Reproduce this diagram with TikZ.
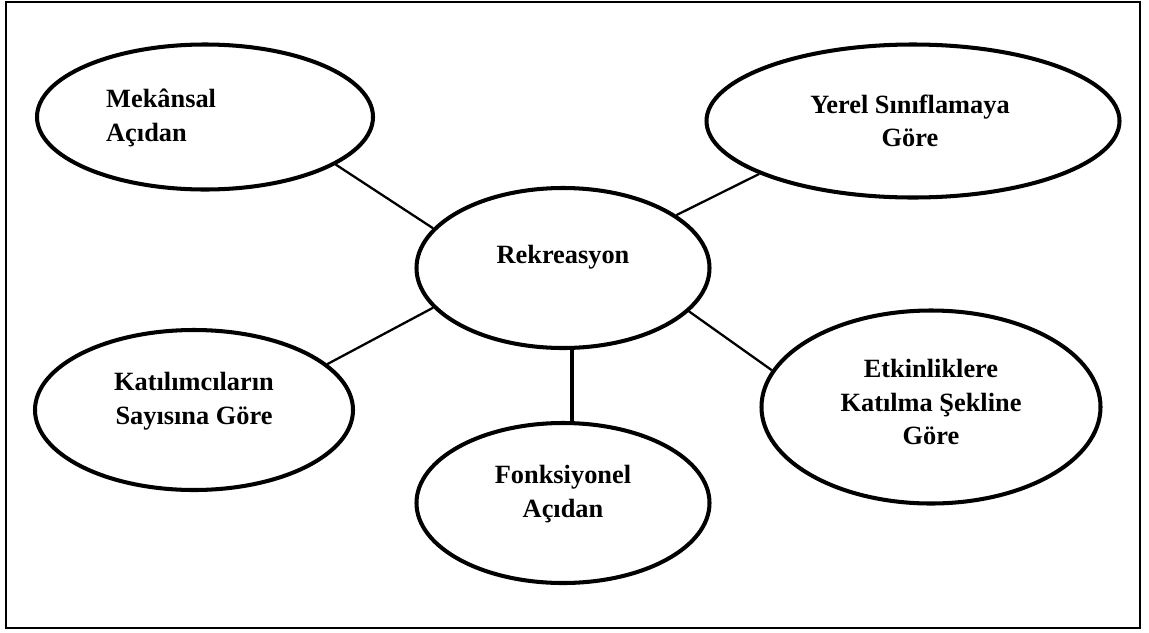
\documentclass[tikz,border=0pt]{standalone}
\usepackage{fontspec}
\setmainfont{Liberation Serif}
\usetikzlibrary{shapes.geometric}

\tikzset{
  bubble/.style={ellipse, draw, line width=2.3pt, inner sep=0pt},
  txt/.style={font=\bfseries\fontsize{15}{19}\selectfont, align=center},
  spoke/.style={line width=1.3pt}
}

\begin{document}
\begin{tikzpicture}
        % Frame
        \useasboundingbox (0,0) rectangle (22.98,-12.64);
        \draw[line width=0.9pt] (0.12,-0.04) rectangle (22.8,-12.56);
        % Ellipses
        \node[bubble, minimum width=5.86cm, minimum height=3.2cm] (rek) at (11.26,-5.36) {};
        \node[bubble, minimum width=6.72cm, minimum height=2.9cm] (mek) at (4.1,-2.34) {};
        \node[bubble, minimum width=8.26cm, minimum height=3.06cm] (yer) at (18.26,-2.42) {};
        \node[bubble, minimum width=6.36cm, minimum height=3.2cm] (kat) at (3.88,-8.2) {};
        \node[bubble, minimum width=5.86cm, minimum height=3.2cm] (fon) at (11.26,-10.06) {};
        \node[bubble, minimum width=6.78cm, minimum height=3.86cm] (etk) at (18.62,-8.14) {};
        % Texts
        \node[txt] (rek-t) at ([yshift=0.22cm]rek.center) {Rekreasyon};
        \node[txt, align=left, anchor=west] (mek-t) at (2.0,-2.36) {Mekânsal\\Açıdan};
        \node[txt] (yer-t) at ([xshift=-0.06cm]yer.center) {Yerel Sınıflamaya\\Göre};
        \node[txt] (kat-t) at ([yshift=0.18cm]kat.center) {Katılımcıların\\Sayısına Göre};
        \node[txt] (fon-t) at ([yshift=0.18cm]fon.center) {Fonksiyonel\\Açıdan};
        \node[txt] (etk-t) at ([yshift=0.1cm]etk.center) {Etkinliklere\\Katılma Şekline\\Göre};
        % Spokes
        \draw[spoke] (mek.-20) -- (rek.163);
        \draw[spoke] (yer.-161) -- (rek.25);
        \draw[spoke] (kat.19) -- (rek.-163);
        \draw[spoke] (etk.167) -- (rek.-19);
        \draw[line width=2.3pt] ([xshift=0.18cm]rek.south) -- ([xshift=0.18cm]fon.north);
      \end{tikzpicture}
\end{document}
